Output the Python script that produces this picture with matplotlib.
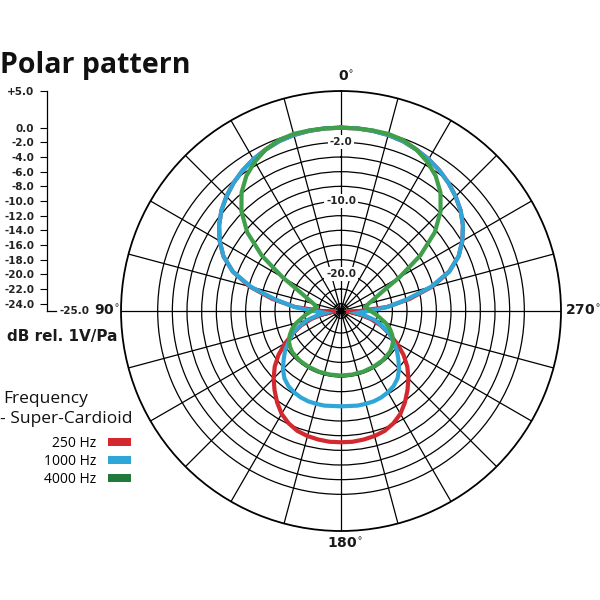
import numpy as np
import matplotlib.pyplot as plt
from matplotlib.patches import Patch

plt.rcParams['font.family'] = ['DejaVu Sans']

# half patterns (0-180 deg, 90 deg = left side);
# the pattern is symmetric, so 180-360 is the mirror image
red_ang = [0, 5, 10, 15, 20, 25, 30, 35, 40, 45, 50, 55, 60, 65, 70, 75, 80,
           85, 90, 94, 97, 100, 105, 110, 115, 120, 125, 130, 135, 140, 145,
           150, 155, 160, 165, 170, 175, 180]
red_db = [0, 0, -0.05, -0.15, -0.35, -0.7, -1.1, -1.6, -2.2, -2.9, -3.7, -4.7,
          -5.9, -7.3, -9.3, -12.1, -15.5, -18.7, -22.4, -24.3, -23.6, -22.5,
          -20.8, -19.2, -17.8, -16.2, -14.6, -13.2, -12.0, -10.9, -9.8, -8.8,
          -8.1, -7.6, -7.35, -7.2, -7.1, -7.1]

blue_ang = [0, 5, 10, 15, 20, 25, 30, 35, 40, 45, 50, 55, 60, 65, 70, 75, 80,
            85, 90, 94, 97, 100, 105, 110, 115, 120, 125, 130, 135, 140, 145,
            150, 155, 160, 165, 170, 175, 180]
blue_db = [0, 0, -0.05, -0.15, -0.35, -0.7, -1.1, -1.6, -2.2, -2.9, -3.7, -4.7,
           -5.9, -7.3, -9.3, -12.3, -15.9, -18.6, -21.2, -22.4, -22.8, -21.9,
           -20.2, -19.0, -17.7, -16.8, -15.7, -14.8, -13.8, -13.0, -12.5,
           -12.2, -12.0, -11.9, -11.9, -11.9, -12.0, -12.0]

green_ang = [0, 5, 10, 15, 20, 25, 30, 35, 40, 45, 50, 55, 60, 65, 70, 75, 80,
             85, 90, 95, 100, 105, 110, 115, 120, 125, 130, 140, 150, 160, 170,
             180]
green_db = [0, 0, 0, 0, -0.2, -0.7, -1.5, -2.5, -3.9, -5.8, -8.3, -11.8, -15.8,
            -18.8, -20.2, -21.1, -21.6, -21.3, -21.0, -20.3, -19.6, -18.7,
            -17.9, -17.3, -16.8, -16.5, -16.3, -16.2, -16.2, -16.2, -16.2,
            -16.2]

series_labels = ['250 Hz', '1000 Hz', '4000 Hz']
line_colors = ['#d3282e', '#2ea6d8', '#3f9f4b']
swatch_colors = ['#d3282e', '#2ea6d8', '#1f7a3c']

scale_ticks = [5, 0, -2, -4, -6, -8, -10, -12, -14, -16, -18, -20, -22, -24]
scale_labels = ['+5.0', '0.0', '-2.0', '-4.0', '-6.0', '-8.0', '-10.0', '-12.0',
                '-14.0', '-16.0', '-18.0', '-20.0', '-22.0', '-24.0']
ring_labels = [-2, -10, -20]


def full_pattern(ang, db):
    ang = np.array(ang, dtype=float)
    db = np.array(db, dtype=float)
    t = np.concatenate([ang, 360 - ang[::-1][1:]])
    r = np.concatenate([db, db[::-1][1:]])
    return np.radians(t), r


fig = plt.figure(figsize=(6, 6), dpi=100)

# polar plot
ax = fig.add_axes([0.2017, 0.115, 0.7333, 0.7333], projection='polar')
ax.set_theta_zero_location('N')
ax.set_theta_direction(1)
ax.set_ylim(-25, 5)
ax.set_thetagrids(np.arange(0, 360, 15), labels=[])
ax.set_rgrids(np.arange(-24, 1, 2), labels=[])
ax.grid(True, color='black', linewidth=0.9)
ax.spines['polar'].set_color('black')
ax.spines['polar'].set_linewidth(1.3)
ax.tick_params(length=0)

for ang, db, c in [(red_ang, red_db, line_colors[0]),
                   (blue_ang, blue_db, line_colors[1]),
                   (green_ang, green_db, line_colors[2])]:
    t, r = full_pattern(ang, db)
    ax.plot(t, r, color=c, linewidth=3, solid_joinstyle='miter', zorder=3)

for v in ring_labels:
    ax.text(0, v, f'{v:.1f}', ha='center', va='center', fontsize=7.5,
            fontweight='bold', color='#222222', zorder=2.5,
            bbox=dict(facecolor='white', edgecolor='none', pad=1.5))

deg_kw = dict(textcoords='offset points', fontsize=10, fontweight='bold',
              color='#1a1a1a', annotation_clip=False)
ax.annotate('0$^{\\circ}$', xy=(0, 5), xytext=(3.5, 10), ha='center', va='center', **deg_kw)
ax.annotate('180$^{\\circ}$', xy=(np.pi, 5), xytext=(3, -9), ha='center', va='center', **deg_kw)
ax.annotate('90$^{\\circ}$', xy=(np.pi / 2, 5), xytext=(-1, 0), ha='right', va='center', **deg_kw)
ax.annotate('270$^{\\circ}$', xy=(3 * np.pi / 2, 5), xytext=(3, 0), ha='left', va='center', **deg_kw)

# dB scale on the left
sc = fig.add_axes([46.7 / 600, 0.4817, 9.5 / 600, 0.3667])
sc.set_ylim(-25, 5)
sc.set_xlim(0, 1)
sc.set_yticks(scale_ticks, labels=scale_labels)
sc.set_xticks([])
sc.spines['top'].set_visible(False)
sc.spines['right'].set_visible(False)
sc.spines['left'].set_linewidth(0.9)
sc.spines['bottom'].set_linewidth(0.9)
sc.patch.set_visible(False)
sc.tick_params(axis='y', length=5.3, width=0.8, pad=3.5, labelsize=7.5,
               labelcolor='#222222')
for lbl in sc.get_yticklabels():
    lbl.set_fontweight('bold')
sc.text(1.3, -25, '-25.0', transform=sc.get_yaxis_transform(), ha='left',
        va='center', fontsize=7.5, fontweight='bold', color='#222222')

fig.text(7 / 600, 1 - 336 / 600, 'dB rel. 1V/Pa', va='center', fontsize=11,
         fontweight='bold', color='#1a1a1a')

fig.text(0.0, 1 - 73 / 600, 'Polar pattern', va='baseline', fontsize=20.5,
         family='Open Sans', fontweight='bold', color='#111111')

fig.text(3 / 600, 1 - 403 / 600, 'Frequency', va='baseline', fontsize=12.5,
         family='Open Sans', color='#111111')
fig.text(0.0, 1 - 423 / 600, '- Super-Cardioid', va='baseline', fontsize=12.5,
         family='Open Sans', color='#111111')

handles = [Patch(facecolor=c, edgecolor='none') for c in swatch_colors]
fig.legend(handles, series_labels, loc='upper right',
           bbox_to_anchor=(131 / 600, 1 - 436 / 600), frameon=False,
           markerfirst=False, prop={'family': 'Open Sans', 'size': 10},
           handlelength=1.65, handleheight=0.5, handletextpad=0.85,
           labelspacing=0.2, borderpad=0, borderaxespad=0)

fig.savefig('out.png', dpi=100, facecolor='white')
